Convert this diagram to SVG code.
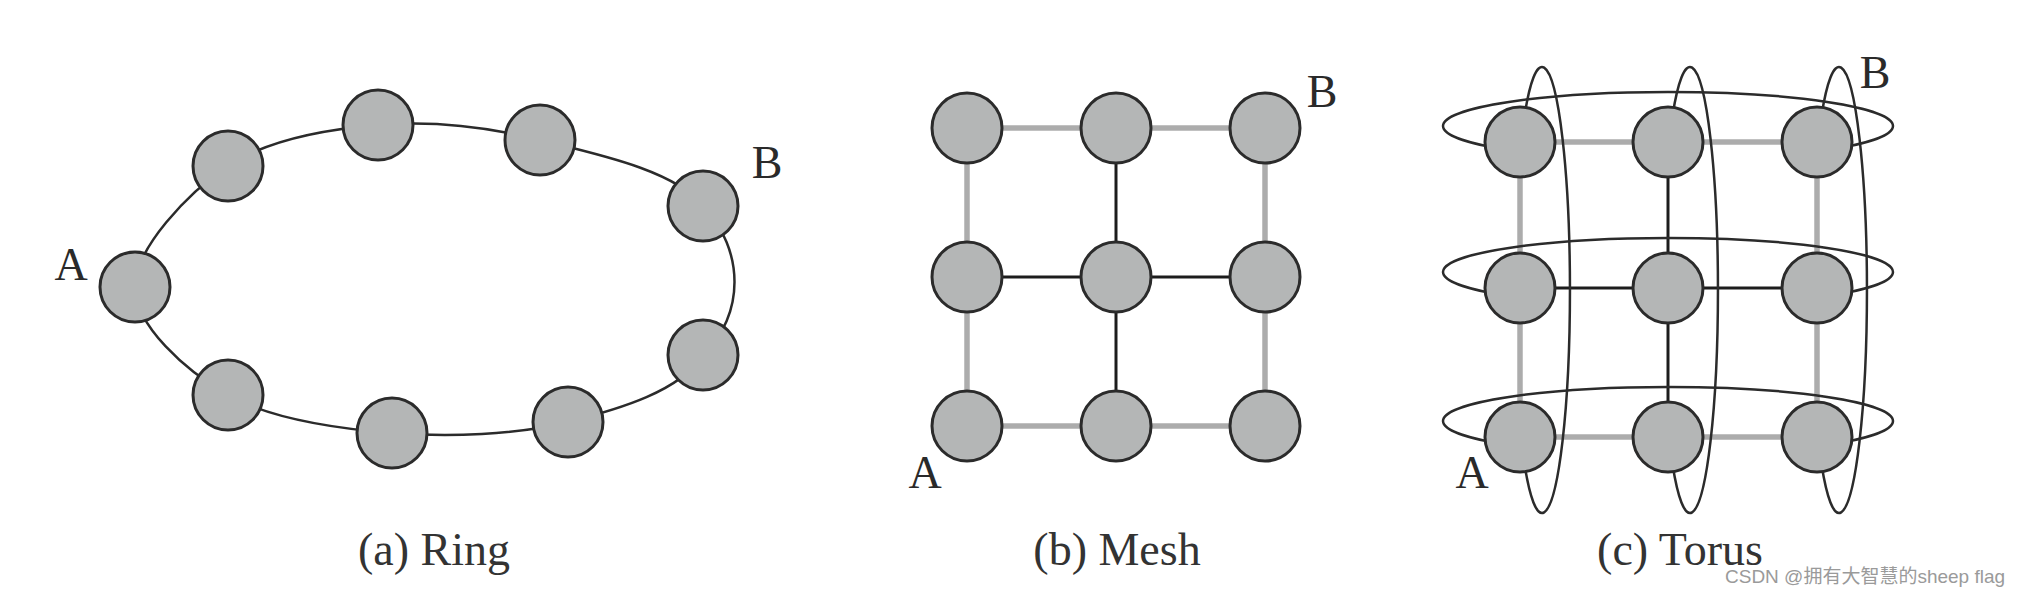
<svg xmlns="http://www.w3.org/2000/svg" width="2020" height="598" viewBox="0 0 2020 598">
<style>
.node{fill:#b4b6b6;stroke:#2b2b2b;stroke-width:3}
.ring{fill:none;stroke:#2b2b2b;stroke-width:2.5}
.gray{fill:none;stroke:#acacac;stroke-width:5.5}
.dark{fill:none;stroke:#1c1c1c;stroke-width:3}
.wrap{fill:none;stroke:#2b2b2b;stroke-width:2.5}
.lbl{font-family:"Liberation Serif",serif;font-size:46px;fill:#2a2a2a;text-anchor:middle}
.cap{font-family:"Liberation Serif",serif;font-size:46px;fill:#333;text-anchor:middle}
.wm{font-family:"Liberation Sans","Noto Sans CJK SC",sans-serif;font-size:19px;fill:#9a9a9a}
</style>
<rect width="2020" height="598" fill="#fff"/>
<g id="connectors">
<path class="ring" d="M135,287 C135,248.8 187.5,193 228,166 C268.5,139 326,129.3 378,125 C430,120.7 485.8,126.5 540,140 C594.2,153.5 675.8,170.2 703,206 C745,250 745,315 703,355 C680.5,391 619.8,409 568,422 C516.2,435 448.7,437.5 392,433 C335.3,428.5 270.8,419.3 228,395 C185.2,370.7 135,325.2 135,287 Z"/>
<g id="mesh-edges">
<line class="gray" x1="967" y1="128" x2="1116" y2="128"/>
<line class="gray" x1="1116" y1="128" x2="1265" y2="128"/>
<line class="dark" x1="967" y1="277" x2="1116" y2="277"/>
<line class="dark" x1="1116" y1="277" x2="1265" y2="277"/>
<line class="gray" x1="967" y1="426" x2="1116" y2="426"/>
<line class="gray" x1="1116" y1="426" x2="1265" y2="426"/>
<line class="gray" x1="967" y1="128" x2="967" y2="277"/>
<line class="gray" x1="967" y1="277" x2="967" y2="426"/>
<line class="dark" x1="1116" y1="128" x2="1116" y2="277"/>
<line class="dark" x1="1116" y1="277" x2="1116" y2="426"/>
<line class="gray" x1="1265" y1="128" x2="1265" y2="277"/>
<line class="gray" x1="1265" y1="277" x2="1265" y2="426"/>
</g>
<g id="torus-edges">
<line class="gray" x1="1520" y1="142" x2="1668" y2="142"/>
<line class="gray" x1="1668" y1="142" x2="1817" y2="142"/>
<line class="dark" x1="1520" y1="288" x2="1668" y2="288"/>
<line class="dark" x1="1668" y1="288" x2="1817" y2="288"/>
<line class="gray" x1="1520" y1="437" x2="1668" y2="437"/>
<line class="gray" x1="1668" y1="437" x2="1817" y2="437"/>
<line class="gray" x1="1520" y1="142" x2="1520" y2="288"/>
<line class="gray" x1="1520" y1="288" x2="1520" y2="437"/>
<line class="dark" x1="1668" y1="142" x2="1668" y2="288"/>
<line class="dark" x1="1668" y1="288" x2="1668" y2="437"/>
<line class="gray" x1="1817" y1="142" x2="1817" y2="288"/>
<line class="gray" x1="1817" y1="288" x2="1817" y2="437"/>
<path class="wrap" d="M1509,150 A225,34 0 1 1 1827,150"/>
<path class="wrap" d="M1509,296 A225,34 0 1 1 1827,296"/>
<path class="wrap" d="M1509,445 A225,34 0 1 1 1827,445"/>
<path class="wrap" d="M1524.6,115 A28,223 0 1 1 1524.6,465"/>
<path class="wrap" d="M1672.6,115 A28,223 0 1 1 1672.6,465"/>
<path class="wrap" d="M1821.6,115 A28,223 0 1 1 1821.6,465"/>
</g>
</g>
<g id="ring-n0"><circle class="node" cx="135" cy="287" r="35"/></g>
<g id="ring-n1"><circle class="node" cx="228" cy="166" r="35"/></g>
<g id="ring-n2"><circle class="node" cx="378" cy="125" r="35"/></g>
<g id="ring-n3"><circle class="node" cx="540" cy="140" r="35"/></g>
<g id="ring-n4"><circle class="node" cx="703" cy="206" r="35"/></g>
<g id="ring-n5"><circle class="node" cx="703" cy="355" r="35"/></g>
<g id="ring-n6"><circle class="node" cx="568" cy="422" r="35"/></g>
<g id="ring-n7"><circle class="node" cx="392" cy="433" r="35"/></g>
<g id="ring-n8"><circle class="node" cx="228" cy="395" r="35"/></g>
<g id="mesh-n00"><circle class="node" cx="967" cy="128" r="35"/></g>
<g id="mesh-n01"><circle class="node" cx="1116" cy="128" r="35"/></g>
<g id="mesh-n02"><circle class="node" cx="1265" cy="128" r="35"/></g>
<g id="mesh-n10"><circle class="node" cx="967" cy="277" r="35"/></g>
<g id="mesh-n11"><circle class="node" cx="1116" cy="277" r="35"/></g>
<g id="mesh-n12"><circle class="node" cx="1265" cy="277" r="35"/></g>
<g id="mesh-n20"><circle class="node" cx="967" cy="426" r="35"/></g>
<g id="mesh-n21"><circle class="node" cx="1116" cy="426" r="35"/></g>
<g id="mesh-n22"><circle class="node" cx="1265" cy="426" r="35"/></g>
<g id="torus-n00"><circle class="node" cx="1520" cy="142" r="35"/></g>
<g id="torus-n01"><circle class="node" cx="1668" cy="142" r="35"/></g>
<g id="torus-n02"><circle class="node" cx="1817" cy="142" r="35"/></g>
<g id="torus-n10"><circle class="node" cx="1520" cy="288" r="35"/></g>
<g id="torus-n11"><circle class="node" cx="1668" cy="288" r="35"/></g>
<g id="torus-n12"><circle class="node" cx="1817" cy="288" r="35"/></g>
<g id="torus-n20"><circle class="node" cx="1520" cy="437" r="35"/></g>
<g id="torus-n21"><circle class="node" cx="1668" cy="437" r="35"/></g>
<g id="torus-n22"><circle class="node" cx="1817" cy="437" r="35"/></g>
<g id="labels">
<text class="lbl" x="71" y="280">A</text>
<text class="lbl" x="767" y="178">B</text>
<text class="lbl" x="925" y="488">A</text>
<text class="lbl" x="1322" y="107">B</text>
<text class="lbl" x="1472" y="488">A</text>
<text class="lbl" x="1875" y="88">B</text>
<text class="cap" x="434" y="565">(a) Ring</text>
<text class="cap" x="1117" y="565">(b) Mesh</text>
<text class="cap" x="1680" y="565">(c) Torus</text>
<text class="wm" x="1725" y="583">CSDN @拥有大智慧的sheep flag</text>
</g>
</svg>
